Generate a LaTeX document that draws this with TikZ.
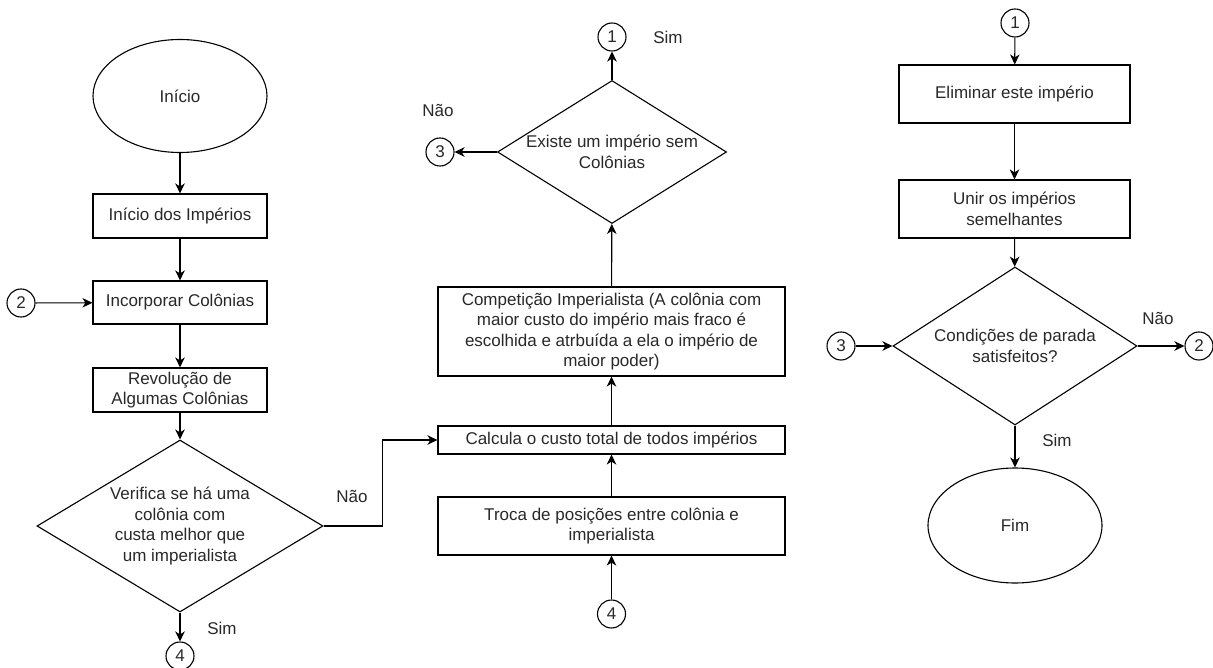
\documentclass[tikz,border=0pt]{standalone}
\usepackage{fontspec}
\setmainfont{Liberation Sans}
\usetikzlibrary{shapes.geometric,arrows.meta,calc}
\definecolor{txt}{RGB}{40,40,40}
\tikzset{
  base/.style={draw=black, line width=1.1pt, text=txt, font=\fontsize{17}{20.5}\selectfont, align=center, inner sep=0pt},
  procbox/.style={base, rectangle, minimum width=#1},
  ellip/.style={base, ellipse, minimum width=174pt, minimum height=113pt},
  decis/.style={base, diamond},
  conn/.style={base, circle, minimum size=28pt},
  lbl/.style={text=txt, font=\fontsize{17}{20.5}\selectfont, inner sep=0pt},
  arr/.style={draw=black, line width=1.1pt, -{Stealth[length=10pt,width=9.5pt,inset=3pt]}}
}
\begin{document}
\begin{tikzpicture}[x=1pt,y=-1pt]
\useasboundingbox (0,0) rectangle (1213,668);

% left column
\node[ellip] (inicio) at (180,96) {Início};
\node[procbox=174pt, minimum height=44pt] (imp) at (180,216) {Início dos Impérios};
\node[procbox=174pt, minimum height=43pt] (inc) at (180,302.5) {Incorporar Colônias};
\node[procbox=174pt, minimum height=44pt] (rev) at (180,390) {Revolução de\\Algumas Colônias};
\node[decis, minimum width=286pt, minimum height=172pt,
      label={[lbl, align=center]center:Verifica se há uma\\colônia com\\custa melhor que\\um imperialista}] (ver) at (180,526) {};
\node[conn] (c4a) at (180,656) {4};
\node[conn] (c2a) at (21,303) {2};
\node[lbl] (simA) at (222,628) {Sim};
\node[lbl] (naoA) at (352,496) {Não};

% middle column
\node[procbox=347pt, minimum height=28pt] (calc) at (611.5,440) {Calcula o custo total de todos impérios};
\node[procbox=347pt, minimum height=89pt] (comp) at (611.5,331.5) {Competição Imperialista (A colônia com\\maior custo do império mais fraco é\\escolhida e atrbuída a ela o império de\\maior poder)};
\node[procbox=347pt, minimum height=58pt] (troca) at (611.5,526) {Troca de posições entre colônia e\\imperialista};
\node[conn] (c4b) at (611.5,614) {4};
\node[decis, minimum width=229pt, minimum height=143pt,
      label={[lbl, align=center]center:Existe um império sem\\Colônias}] (exist) at (612,152) {};
\node[conn] (c1a) at (612,37) {1};
\node[conn] (c3a) at (440,152) {3};
\node[lbl] (simB) at (668,37) {Sim};
\node[lbl] (naoB) at (438,110) {Não};

% right column
\node[conn] (c1b) at (1015,23) {1};
\node[procbox=231pt, minimum height=58pt] (elim) at (1014.5,94) {Eliminar este império};
\node[procbox=231pt, minimum height=58pt] (unir) at (1014.5,209) {Unir os impérios\\semelhantes};
\node[decis, minimum width=244pt, minimum height=158pt,
      label={[lbl, align=center]center:Condições de parada\\satisfeitos?}] (cond) at (1015,346) {};
\node[conn] (c3b) at (841,346) {3};
\node[conn] (c2b) at (1199,346) {2};
\node[lbl] (naoC) at (1158,318) {Não};
\node[lbl] (simC) at (1057,440) {Sim};
\node[ellip, minimum height=115pt] (fim) at (1015,525.5) {Fim};

% connectors
\draw[arr] (inicio) -- (imp);
\draw[arr] (imp) -- (inc);
\draw[arr] (inc) -- (rev);
\draw[arr] (rev) -- (ver);
\draw[arr] (ver) -- (c4a);
\draw[arr] (c2a) -- (inc);
\draw[arr] (ver.east) -- ++(59,0) |- (calc.west);
\draw[arr] (c4b) -- (troca);
\draw[arr] (troca) -- (calc);
\draw[arr] (calc) -- (comp);
\draw[arr] (comp) -- (exist);
\draw[arr] (exist.north) -- (c1a);
\draw[arr] (exist.west) -- (c3a);
\draw[arr] (c1b) -- (elim);
\draw[arr] (elim) -- (unir);
\draw[arr] (unir) -- (cond);
\draw[arr] (c3b) -- (cond.west);
\draw[arr] (cond.east) -- (c2b);
\draw[arr] (cond.south) -- (fim);
\end{tikzpicture}
\end{document}
